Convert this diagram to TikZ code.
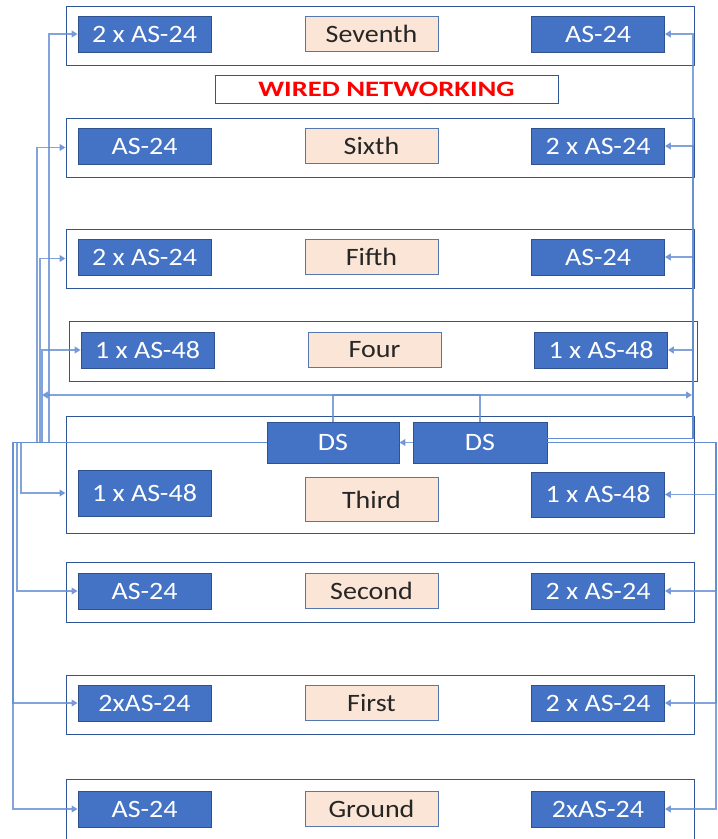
\documentclass[tikz,border=0pt]{standalone}
\usepackage{fontspec}
\setmainfont[FakeStretch=1.12]{Carlito}
\newfontfamily\titlefont[FakeStretch=1.3]{Carlito}
\usetikzlibrary{arrows.meta}

\definecolor{asblue}{RGB}{68,114,196}
\definecolor{asedge}{RGB}{47,82,143}
\definecolor{peach}{RGB}{251,229,214}
\definecolor{framec}{RGB}{47,85,151}
\definecolor{wire}{RGB}{100,140,210}

\tikzset{
    floorframe/.style={draw=framec, line width=1pt, inner sep=0pt},
    asbox/.style={draw=asedge, line width=0.8pt, fill=asblue, text=white,
        minimum width=133, minimum height=36, inner sep=0pt,
        font=\fontsize{25}{28}\selectfont},
    lvlbox/.style={draw=asblue!70!gray, line width=0.8pt, fill=peach, text=black!85,
        minimum width=133, minimum height=35, inner sep=0pt,
        font=\fontsize{25}{28}\selectfont},
    link/.style={draw=wire, line width=1.3pt, opacity=0.8},
    feed/.style={link, -{Triangle[width=7pt,length=6pt]}},
}

\begin{document}
\begin{tikzpicture}
    [
        x=1pt, y=-1pt,
    ]
    \useasboundingbox (0,0) rectangle (718,839);

    % floors
    \foreach \n/\yt/\yb/\yc/\dx/\lbl/\lt/\rt in
    {7/6/65/34/0/Seventh/2 x AS-24/AS-24,
     6/118/177/146/0/Sixth/AS-24/2 x AS-24,
     5/229/288/257/0/Fifth/2 x AS-24/AS-24,
     4/321/381/350/3/Four/1 x AS-48/1 x AS-48,
     2/562/622/591/0/Second/AS-24/2 x AS-24,
     1/675/734/703/0/First/2xAS-24/2 x AS-24,
     0/779/860/809/0/Ground/AS-24/2xAS-24}
    {
        \node [floorframe, minimum width=628, minimum height={\yb-\yt}] (f\n)
            at ({380+\dx}, {(\yt+\yb)/2}) {};
        \node [asbox] (l\n) at ({144.5+\dx}, \yc) {\lt};
        \node [lvlbox] (c\n) at ({371.5+\dx}, \yc) {\lbl};
        \node [asbox] (r\n) at ({598+\dx}, \yc) {\rt};
    }

    \node [floorframe, minimum width=628, minimum height=117] (f3) at (380, 474.5) {};
    \node [asbox, minimum height=46] (l3) at (144.5, 493) {1 x AS-48};
    \node [lvlbox, minimum height=44] (c3) at (371.5, 499.5) {Third};
    \node [asbox, minimum height=45] (r3) at (598, 494.5) {1 x AS-48};

    \node [asbox, minimum width=132, minimum height=41] (ds1) at (333, 442.5) {DS};
    \node [asbox, minimum width=134, minimum height=41] (ds2) at (480, 442.5) {DS};

    \node [draw=framec, line width=1pt, minimum width=343, minimum height=28,
        text=red, font=\titlefont\bfseries\fontsize{22}{24}\selectfont] (title)
        at (386.5, 89) {WIRED NETWORKING};

    % distribution ring
    \coordinate (ringL) at (42, 395);
    \coordinate (ringR) at (692, 395);
    \draw [feed] (ds1.north) |- (ringR);
    \draw [feed] (ds2.north) |- (ringL);
    \draw [feed] (ds2.west) -- (ds1.east);

    % left risers
    \foreach \bx/\tgt in {49/l7, 37/f6, 40/f5, 42/l4, 17/l2, 13/l1, 13/l0}
    {
        \draw [feed] (ds1.west) -- (\bx, 442.5) |- (\tgt.west);
    }
    \draw [feed] (ds1.west) -- (21, 442.5) |- (f3.west |- l3.west);

    % right risers
    \foreach \tgt in {r7, r6, r5, r4}
    {
        \draw [feed] ([yshift=4pt]ds2.east) -- (693, 438.5) |- (\tgt.east);
    }
    \foreach \tgt in {r3, r2, r1, r0}
    {
        \draw [feed] (ds2.east) -- (716, 442.5) |- (\tgt.east);
    }
\end{tikzpicture}
\end{document}
